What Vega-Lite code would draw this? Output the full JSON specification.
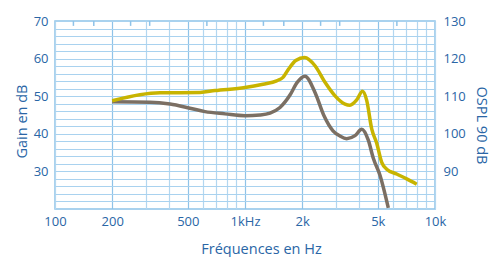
{
  "$schema": "https://vega.github.io/schema/vega-lite/v6.json",
  "width": 380,
  "height": 188,
  "autosize": {"type": "none"},
  "padding": {"left": 55, "top": 21, "right": 56, "bottom": 48},
  "background": "white",
  "config": {
    "view": {"stroke": "#8fc3e8", "strokeWidth": 1.5},
    "axis": {
      "labelFont": "Open Sans",
      "titleFont": "Open Sans",
      "labelColor": "#2a66a6",
      "titleColor": "#2a66a6",
      "labelFontSize": 13,
      "titleFontSize": 14.5,
      "titleFontWeight": "normal",
      "domain": false,
      "ticks": false,
      "tickSize": 0
    }
  },
  "datasets": {
    "gain": [
      {"freq": 200, "gain": 48.5},
      {"freq": 316, "gain": 48.4},
      {"freq": 403, "gain": 47.9},
      {"freq": 513, "gain": 46.8},
      {"freq": 616, "gain": 45.9},
      {"freq": 785, "gain": 45.3},
      {"freq": 1000, "gain": 44.8},
      {"freq": 1199, "gain": 45.0},
      {"freq": 1354, "gain": 45.5},
      {"freq": 1528, "gain": 47.0},
      {"freq": 1725, "gain": 50.3},
      {"freq": 1878, "gain": 53.6},
      {"freq": 2069, "gain": 55.3},
      {"freq": 2336, "gain": 51.0},
      {"freq": 2605, "gain": 44.8},
      {"freq": 2905, "gain": 40.8},
      {"freq": 3162, "gain": 39.4},
      {"freq": 3430, "gain": 38.7},
      {"freq": 3793, "gain": 39.5},
      {"freq": 4114, "gain": 41.2},
      {"freq": 4456, "gain": 38.3},
      {"freq": 4735, "gain": 33.5},
      {"freq": 5133, "gain": 29.0},
      {"freq": 5679, "gain": 20.3}
    ],
    "ospl": [
      {"freq": 200, "ospl": 108.8},
      {"freq": 280, "ospl": 110.4},
      {"freq": 357, "ospl": 110.9},
      {"freq": 580, "ospl": 111.0},
      {"freq": 695, "ospl": 111.5},
      {"freq": 1000, "ospl": 112.3},
      {"freq": 1244, "ospl": 113.2},
      {"freq": 1468, "ospl": 114.1},
      {"freq": 1585, "ospl": 115.0},
      {"freq": 1700, "ospl": 117.3},
      {"freq": 1850, "ospl": 119.5},
      {"freq": 2060, "ospl": 120.3},
      {"freq": 2336, "ospl": 118.1},
      {"freq": 2637, "ospl": 113.7},
      {"freq": 2977, "ospl": 110.1},
      {"freq": 3360, "ospl": 107.9},
      {"freq": 3570, "ospl": 107.6},
      {"freq": 3871, "ospl": 109.0},
      {"freq": 4154, "ospl": 111.3},
      {"freq": 4370, "ospl": 108.9},
      {"freq": 4644, "ospl": 101.3},
      {"freq": 4934, "ospl": 97.5},
      {"freq": 5243, "ospl": 92.4},
      {"freq": 5569, "ospl": 90.6},
      {"freq": 6285, "ospl": 89.3},
      {"freq": 7098, "ospl": 88.0},
      {"freq": 8012, "ospl": 86.6}
    ],
    "ticks": [
      {"freq": 125}, {"freq": 160}, {"freq": 250}, {"freq": 315}, {"freq": 630},
      {"freq": 1250}, {"freq": 1600}, {"freq": 2500}, {"freq": 3150}, {"freq": 6300}
    ]
  },
  "layer": [
    {
      "data": {"name": "gain"},
      "mark": {"type": "line", "color": "#7b6f63", "strokeWidth": 3.5, "interpolate": "monotone", "clip": true},
      "encoding": {
        "x": {
          "field": "freq",
          "type": "quantitative",
          "scale": {"type": "log", "domain": [100, 10000]},
          "axis": {
            "values": [100, 200, 300, 400, 500, 600, 700, 800, 900, 1000, 2000, 3000, 4000, 5000, 6000, 7000, 8000, 9000, 10000],
            "labelExpr": "datum.value==100?'100':datum.value==200?'200':datum.value==500?'500':datum.value==1000?'1kHz':datum.value==2000?'2k':datum.value==5000?'5k':datum.value==10000?'10k':''",
            "labelPadding": 6,
            "labelFlush": false,
            "labelOverlap": false,
            "grid": true,
            "gridColor": {"condition": {"test": "indexof([200,500,1000,2000,5000],datum.value)>=0", "value": "#8fc3e8"}, "value": "#b3d7f0"},
            "gridWidth": 1.2,
            "title": "Fréquences en Hz",
            "titleX": 206,
            "titleY": 40,
            "titleAlign": "center",
            "titleBaseline": "middle"
          }
        },
        "y": {
          "field": "gain",
          "type": "quantitative",
          "scale": {"domain": [20, 70]},
          "axis": {
            "values": [20, 22, 24, 26, 28, 30, 32, 34, 36, 38, 40, 42, 44, 46, 48, 50, 52, 54, 56, 58, 60, 62, 64, 66, 68, 70],
            "labelExpr": "(datum.value == 30 || datum.value == 40 || datum.value == 50 || datum.value == 60 || datum.value == 70) ? ('' + datum.value) : ''",
            "labelPadding": 7,
            "labelOverlap": false,
            "labelFlush": false,
            "grid": true,
            "gridColor": "#a9d2ef",
            "gridWidth": 1.2,
            "title": "Gain en dB",
            "titleX": -33,
            "titleY": 100,
            "titleAlign": "center",
            "titleBaseline": "middle"
          }
        }
      }
    },
    {
      "data": {"name": "ticks"},
      "mark": {"type": "rule", "color": "#8fc3e8", "strokeWidth": 1.5},
      "encoding": {
        "x": {"field": "freq", "type": "quantitative"},
        "y": {"datum": 70, "type": "quantitative", "scale": {"domain": [20, 70]}, "axis": null},
        "y2": {"datum": 68.7}
      }
    },
    {
      "data": {"name": "ospl"},
      "mark": {"type": "line", "color": "#c8b400", "strokeWidth": 3.5, "interpolate": "monotone", "clip": true},
      "encoding": {
        "x": {"field": "freq", "type": "quantitative"},
        "y": {
          "field": "ospl",
          "type": "quantitative",
          "scale": {"domain": [80, 130]},
          "axis": {
            "orient": "right",
            "values": [90, 100, 110, 120, 130],
            "labelPadding": 8,
            "labelOverlap": false,
            "labelFlush": false,
            "grid": false,
            "title": "OSPL 90 dB",
            "titleX": 45,
            "titleY": 104,
            "titleAlign": "center",
            "titleBaseline": "middle",
            "titleAngle": 90
          }
        }
      }
    }
  ],
  "resolve": {"scale": {"y": "independent"}}
}
